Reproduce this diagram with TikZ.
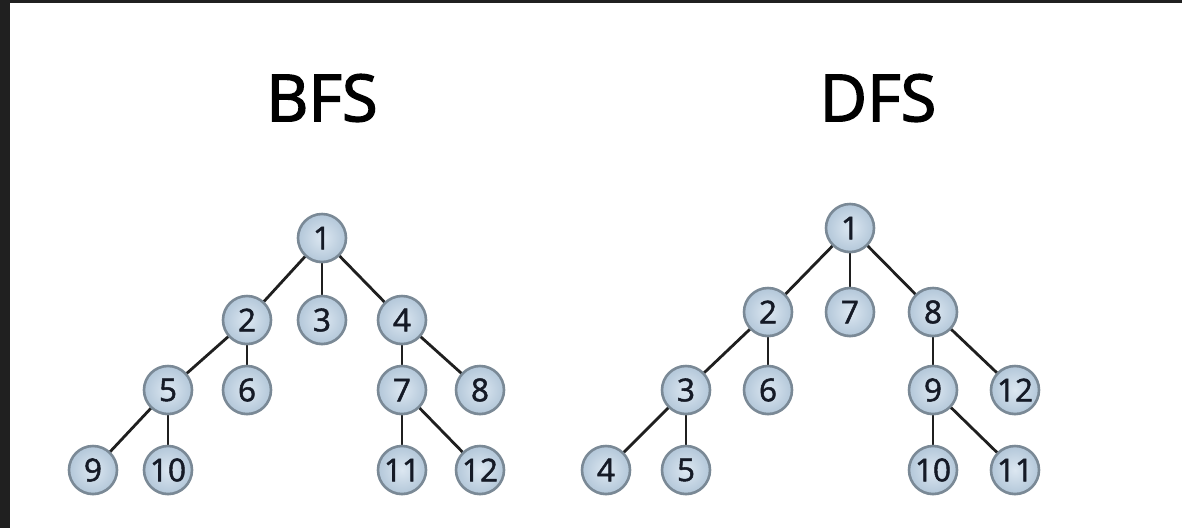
\documentclass[tikz,border=0pt]{standalone}
\usepackage{fontspec}
\setmainfont{Open Sans}
\newfontfamily\titlefont[FakeBold=2.2]{Open Sans}
\newfontfamily\numfont[FakeBold=1.6]{Open Sans}
\usetikzlibrary{shadows}
\definecolor{frame}{HTML}{202020}
\definecolor{nodein}{HTML}{DCE7F1}
\definecolor{nodeout}{HTML}{B3C7D9}
\definecolor{nodeedge}{HTML}{7A8996}
\definecolor{numcol}{HTML}{151A26}
\pgfdeclarelayer{bg}
\pgfdeclarelayer{edges}
\pgfsetlayers{bg,edges,main}
\tikzset{
  vert/.style={circle, minimum size=48pt, inner sep=0pt, draw=nodeedge, line width=2.6pt,
    inner color=nodein, outer color=nodeout, text=numcol,
    font=\numfont\fontsize{31.5}{32}\selectfont,
    drop shadow={shadow xshift=0pt, shadow yshift=-1.5pt, opacity=0.18, fill=black, scale=1.05}},
  edge/.style={line width=2.8pt, draw=black!88},
  title/.style={font=\titlefont\fontsize{65}{67}\selectfont, text=black}
}
\begin{document}
\begin{tikzpicture}[x=1pt,y=-1pt]
\useasboundingbox (0,0) rectangle (1182,528);
\begin{pgfonlayer}{bg}
\fill[white] (0,0) rectangle (1182,528);
\fill[frame] (0,0) rectangle (1182,3);
\fill[frame] (0,0) rectangle (10,528);
\end{pgfonlayer}
\node[title] (tb) at (322,98) {BFS};
\node[title] (td) at (878,98) {DFS};
% BFS tree
\node[vert] (b1) at (322,238) {1};
\node[vert] (b2) at (247,320) {2};
\node[vert] (b3) at (322,320) {3};
\node[vert] (b4) at (402,320) {4};
\node[vert] (b5) at (168,390) {5};
\node[vert] (b6) at (247,390) {6};
\node[vert] (b7) at (402,390) {7};
\node[vert] (b8) at (480,390) {8};
\node[vert] (b9) at (93,470) {9};
\node[vert] (b10) at (168,470) {10};
\node[vert] (b11) at (402,470) {11};
\node[vert] (b12) at (480,470) {12};
% DFS tree
\node[vert] (d1) at (850,228) {1};
\node[vert] (d2) at (768,312) {2};
\node[vert] (d7) at (850,312) {7};
\node[vert] (d8) at (933,312) {8};
\node[vert] (d3) at (686,390) {3};
\node[vert] (d6) at (768,390) {6};
\node[vert] (d9) at (933,390) {9};
\node[vert] (d12) at (1015,390) {12};
\node[vert] (d4) at (606,470) {4};
\node[vert] (d5) at (686,470) {5};
\node[vert] (d10) at (933,470) {10};
\node[vert] (d11) at (1015,470) {11};
\begin{pgfonlayer}{edges}
\draw[edge] (b1.center) -- (b2.center);
\draw[edge] (b1.center) -- (b3.center);
\draw[edge] (b1.center) -- (b4.center);
\draw[edge] (b2.center) -- (b5.center);
\draw[edge] (b2.center) -- (b6.center);
\draw[edge] (b4.center) -- (b7.center);
\draw[edge] (b4.center) -- (b8.center);
\draw[edge] (b5.center) -- (b9.center);
\draw[edge] (b5.center) -- (b10.center);
\draw[edge] (b7.center) -- (b11.center);
\draw[edge] (b7.center) -- (b12.center);
\draw[edge] (d1.center) -- (d2.center);
\draw[edge] (d1.center) -- (d7.center);
\draw[edge] (d1.center) -- (d8.center);
\draw[edge] (d2.center) -- (d3.center);
\draw[edge] (d2.center) -- (d6.center);
\draw[edge] (d3.center) -- (d4.center);
\draw[edge] (d3.center) -- (d5.center);
\draw[edge] (d8.center) -- (d9.center);
\draw[edge] (d8.center) -- (d12.center);
\draw[edge] (d9.center) -- (d10.center);
\draw[edge] (d9.center) -- (d11.center);
\end{pgfonlayer}
\end{tikzpicture}
\end{document}
